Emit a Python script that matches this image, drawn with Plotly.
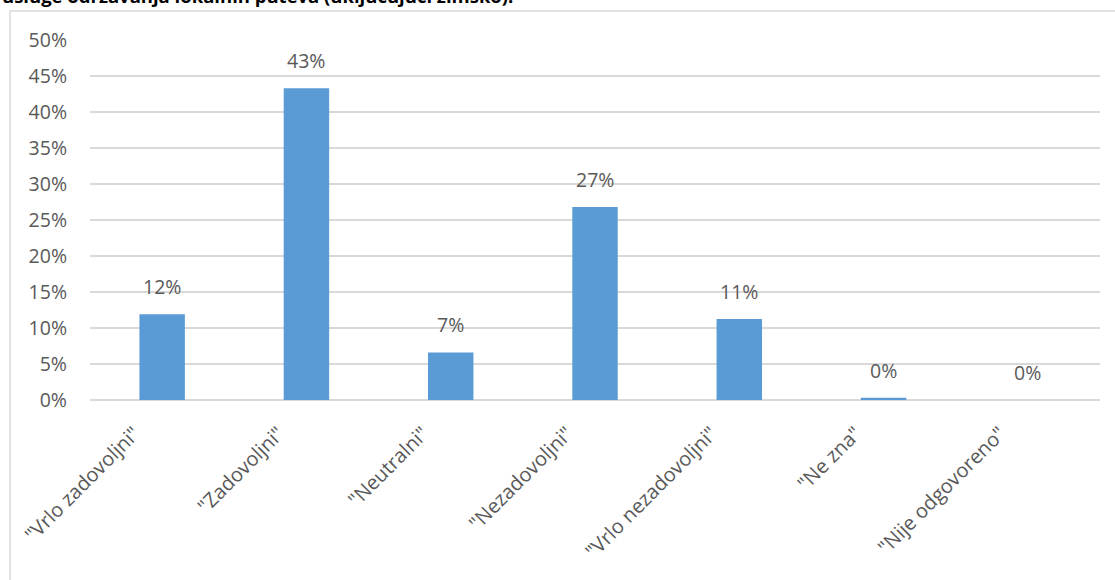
import plotly.graph_objects as go

categories = ['"Vrlo zadovoljni"', '"Zadovoljni"', '"Neutralni"', '"Nezadovoljni"',
              '"Vrlo nezadovoljni"', '"Ne zna"', '"Nije odgovoreno"']
values = [0.119, 0.433, 0.066, 0.268, 0.1125, 0.003, 0.0]
labels = ["12%", "43%", "7%", "27%", "11%", "0%", "0%"]
y_ticks = [0, 0.05, 0.10, 0.15, 0.20, 0.25, 0.30, 0.35, 0.40, 0.45, 0.50]
title_text = "usluge održavanja lokalnih puteva (uključujući zimsko):"

W, H = 1115, 580
L, R, T, B = 90, 15, 40, 180
pw, ph = W - L - R, H - T - B

FONT = "Open Sans"
GRAY = "#595959"
FS = 19.5

fig = go.Figure()
fig.add_trace(go.Bar(
    x=categories, y=values,
    marker=dict(color="#5b9bd5", line=dict(width=0)),
    hoverinfo="skip",
))

for c, v, t in zip(categories, values, labels):
    fig.add_annotation(x=c, y=v, xref="x", yref="y", text=t, showarrow=False,
                       yanchor="bottom", yshift=12,
                       font=dict(family=FONT, size=FS, color=GRAY))

# title (cut off at the top)
fig.add_annotation(x=(0 - L) / pw, y=1 + (T - 10) / ph, xref="paper", yref="paper",
                   xanchor="left", yanchor="bottom", showarrow=False,
                   text="<b>" + title_text + "</b>",
                   font=dict(family=FONT, size=18.5, color="#000000"))

# chart border
fig.add_shape(type="rect", xref="paper", yref="paper",
              x0=(10 - L) / pw, x1=(W + 20 - L) / pw,
              y0=-(H + 20 - T - ph) / ph, y1=1 + (T - 11) / ph,
              line=dict(color="#d9d9d9", width=1.5), fillcolor="rgba(0,0,0,0)",
              layer="below")

fig.update_layout(
    width=W, height=H,
    margin=dict(l=L, r=R, t=T, b=B, pad=0),
    paper_bgcolor="white", plot_bgcolor="white",
    bargap=0.685,
    showlegend=False,
    font=dict(family=FONT, size=FS, color=GRAY),
)
fig.update_xaxes(tickangle=-45, showgrid=False, showline=False, zeroline=False,
                 tickfont=dict(family=FONT, size=20, color=GRAY), ticks="",
                 ticklabelstandoff=17, ticklabelshift=-28)
fig.update_yaxes(range=[0, 0.5], tickvals=y_ticks, tickformat=".0%",
                 showgrid=True, gridcolor="#d9d9d9", gridwidth=1.5,
                 zeroline=True, zerolinecolor="#d9d9d9", zerolinewidth=1.5,
                 showline=False, ticks="", ticklabelstandoff=22,
                 tickfont=dict(family=FONT, size=FS, color=GRAY))

fig.write_html("out.html", config={"displayModeBar": False},
               post_script="document.body.style.margin='0px';document.body.style.padding='0px';")
